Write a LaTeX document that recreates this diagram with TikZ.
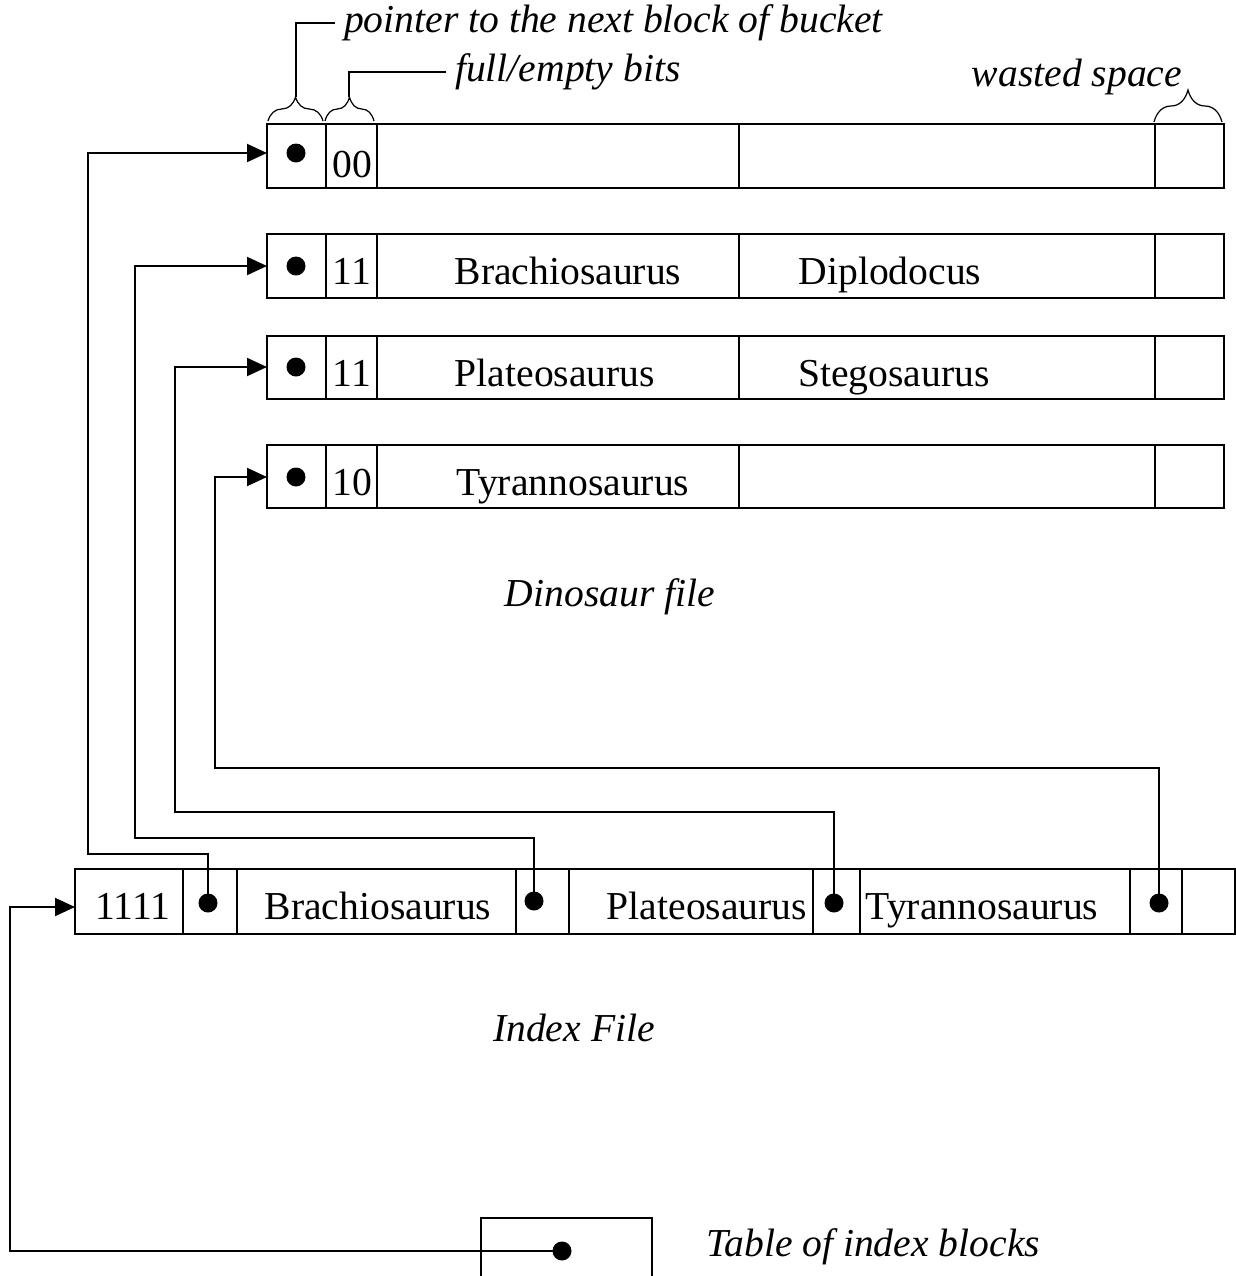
\documentclass[tikz,border=0pt]{standalone}
\usepackage{fontspec}
\setmainfont{Liberation Serif}
\usetikzlibrary{arrows.meta, decorations.pathreplacing}

\begin{document}
\begin{tikzpicture}[x=0.5pt, y=-0.5pt, line width=1pt,
    every node/.style={font=\fontsize{19.8}{24}\selectfont},
    dot/.style={circle, fill, inner sep=0pt, minimum size=9.5pt},
    ptr/.style={-{Triangle[length=10pt, width=9pt]}},
    note/.style={font=\fontsize{19.8}{24}\selectfont\itshape, inner sep=4pt},
    cbrace/.style={decorate, line width=0.6pt, decoration={brace, amplitude=#1}}]
  \useasboundingbox (0,0) rectangle (1236,1276);

  % Bloques del fichero de dinosaurios
  \foreach \n/\t/\b/\m in {1/124/188/153, 2/234/298/266, 3/336/399/367, 4/445/508/477} {
    \draw (267,\t) rectangle (1224,\b);
    \foreach \x in {326,377,739,1155} \draw (\x,\t) -- (\x,\b);
    \node[dot] (d\n) at (296,\m) {};
    \coordinate (b\n) at (267,\m);
  }
  \node[anchor=base] (bits1) at (352,177) {00};
  \node[anchor=base] (bits2) at (352,284) {11};
  \node[anchor=base] (bra) at (568,284) {Brachiosaurus};
  \node[anchor=base] (dip) at (890,284) {Diplodocus};
  \node[anchor=base] (bits3) at (352,386) {11};
  \node[anchor=base] (pla) at (555,386) {Plateosaurus};
  \node[anchor=base] (ste) at (894,386) {Stegosaurus};
  \node[anchor=base] (bits4) at (352,495) {10};
  \node[anchor=base] (tyr) at (573,495) {Tyrannosaurus};

  % Llaves y rótulos de arriba
  \draw[cbrace=12pt] (268,121) -- (323,121);
  \draw[cbrace=12pt] (325,121) -- (374,121);
  \draw[cbrace=16pt] (1154,122) -- (1222,122);
  \coordinate (ptip) at (296,97);
  \coordinate (bittip) at (349,97);
  \node[note, anchor=west] (ptrlbl) at (335,23) {pointer to the next block of bucket};
  \node[note, anchor=west] (bitlbl) at (446,72) {full/empty bits};
  \node[note] (wastelbl) at (1077,77) {wasted space};
  \draw (ptrlbl.west) -| (ptip);
  \draw (bitlbl.west) -| (bittip);

  \node[note] (dinolbl) at (610,597) {Dinosaur file};

  % Bloque del índice
  \draw (75,869) rectangle (1235,934);
  \foreach \x in {183,237,516,569,813,860,1130,1182} \draw (\x,869) -- (\x,934);
  \node[anchor=base] (key) at (133,919) {1111};
  \node[anchor=base] (ibra) at (378,919) {Brachiosaurus};
  \node[anchor=base] (ipla) at (707,919) {Plateosaurus};
  \node[anchor=base] (ityr) at (982,919) {Tyrannosaurus};
  \node[dot] (i1) at (208,903) {};
  \node[dot] (i2) at (534,901) {};
  \node[dot] (i3) at (834,903) {};
  \node[dot] (i4) at (1159,903) {};
  \coordinate (idxin) at (75,907);

  % Punteros del índice a los bloques
  \draw[ptr] (i1.center) |- (88,854) |- (b1);
  \draw[ptr] (i2.center) |- (135,838) |- (b2);
  \draw[ptr] (i3.center) |- (175,812) |- (b3);
  \draw[ptr] (i4.center) |- (215,768) |- (b4);

  \node[note] (idxlbl) at (574,1028) {Index File};

  % Tabla de bloques de índice
  \draw (481,1276) -- (481,1218) -- (652,1218) -- (652,1276);
  \node[dot] (tdot) at (562,1251) {};
  \draw[ptr] (tdot.center) -| (10,907) -- (idxin);
  \node[note, anchor=west] (tbllbl) at (697,1247) {Table of index blocks};
\end{tikzpicture}
\end{document}
